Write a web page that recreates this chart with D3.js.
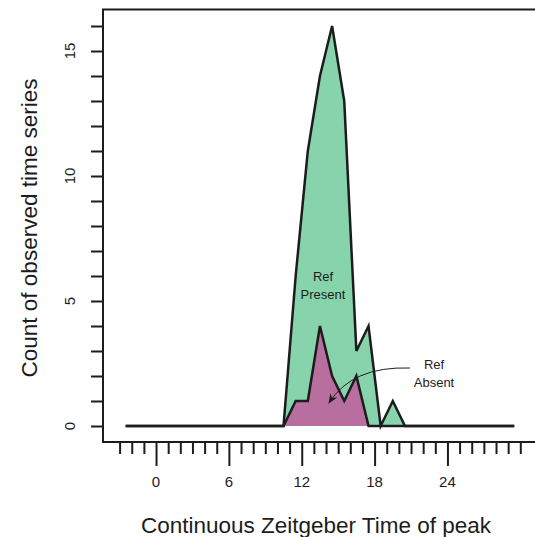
<!DOCTYPE html>
<html>
<head>
<meta charset="utf-8">
<script src="https://cdn.jsdelivr.net/npm/d3@7"></script>
<style>
  html, body { margin: 0; padding: 0; background: #fff; }
  svg { display: block; font-family: "Liberation Sans", Arial, Helvetica, sans-serif; }
</style>
</head>
<body>
<svg id="chart" width="535" height="537"></svg>
<script>
// ---- data ----
const binCenters = [-2.5, -1.5, -0.5, 0.5, 1.5, 2.5, 3.5, 4.5, 5.5, 6.5, 7.5, 8.5, 9.5,
  10.5, 11.5, 12.5, 13.5, 14.5, 15.5, 16.5, 17.5, 18.5, 19.5, 20.5, 21.5, 22.5, 23.5,
  24.5, 25.5, 26.5, 27.5, 28.5, 29.5];
const refPresent = [0, 0, 0, 0, 0, 0, 0, 0, 0, 0, 0, 0, 0,
  0, 6, 11, 14, 16, 13, 3, 4, 0, 1, 0, 0, 0, 0,
  0, 0, 0, 0, 0, 0];
const refAbsent = [0, 0, 0, 0, 0, 0, 0, 0, 0, 0, 0, 0, 0,
  0, 1, 1, 4, 2, 1, 2, 0, 0, 0, 0, 0, 0, 0,
  0, 0, 0, 0, 0, 0];
const xTickValues = [-3, -2, -1, 0, 1, 2, 3, 4, 5, 6, 7, 8, 9, 10, 11, 12, 13, 14, 15, 16,
  17, 18, 19, 20, 21, 22, 23, 24, 25, 26, 27, 28, 29, 30];
const xTickLabels = ["0", "6", "12", "18", "24"];
const yTickValues = [0, 1, 2, 3, 4, 5, 6, 7, 8, 9, 10, 11, 12, 13, 14, 15, 16];
const yTickLabels = ["0", "5", "10", "15"];
const xTitle = "Continuous Zeitgeber Time of peak";
const yTitle = "Count of observed time series";

// ---- layout ----
const svg = d3.select("#chart");
const x = d3.scaleLinear().domain([-3, 30]).range([119.6, 520.3]);
const y = d3.scaleLinear().domain([0, 16]).range([426, 26]);
const box = { left: 103, top: 9.5, bottom: 442, right: 560 };
const ink = "#1c1c1c";

const presentData = binCenters.map((c, i) => ({ x: c, v: refPresent[i] }));
const absentData = binCenters.map((c, i) => ({ x: c, v: refAbsent[i] }));

const area = d3.area().x(d => x(d.x)).y0(y(0)).y1(d => y(d.v));
const line = d3.line().x(d => x(d.x)).y(d => y(d.v));

// Ref Present (green)
svg.append("path").datum(presentData).attr("d", area)
  .attr("fill", "#87d4ac").attr("stroke", "none");
svg.append("path").datum(presentData).attr("d", line)
  .attr("fill", "none").attr("stroke", ink).attr("stroke-width", 2.5)
  .attr("stroke-linejoin", "miter");

// Ref Absent (purple)
svg.append("path").datum(absentData).attr("d", area)
  .attr("fill", "#b86e9e").attr("stroke", "none");
svg.append("path").datum(absentData).attr("d", line)
  .attr("fill", "none").attr("stroke", ink).attr("stroke-width", 2.5)
  .attr("stroke-linejoin", "miter");

// box (left, top, bottom; right side runs off the page)
svg.append("path")
  .attr("d", `M${box.right},${box.top} L${box.left},${box.top} L${box.left},${box.bottom} L${box.right},${box.bottom}`)
  .attr("fill", "none").attr("stroke", ink).attr("stroke-width", 2);

// y axis
const yAxis = d3.axisLeft(y).tickValues(yTickValues).tickSize(12).tickFormat("");
const gy = svg.append("g").attr("transform", `translate(${box.left},0)`).call(yAxis);
gy.select(".domain").remove();
gy.selectAll(".tick line").attr("stroke", ink).attr("stroke-width", 2);
yTickLabels.forEach(lbl => {
  const v = +lbl;
  svg.append("text")
    .attr("transform", `translate(69,${y(v)}) rotate(-90)`)
    .attr("text-anchor", "middle").attr("dominant-baseline", "central")
    .attr("font-size", 15).attr("fill", ink).text(lbl);
});

// x axis
const majorSet = new Set(xTickLabels.map(Number));
const xAxis = d3.axisBottom(x).tickValues(xTickValues).tickSize(12).tickFormat("");
const gx = svg.append("g").attr("transform", `translate(0,${box.bottom})`).call(xAxis);
gx.select(".domain").remove();
gx.selectAll(".tick line")
  .attr("stroke", ink).attr("stroke-width", 2)
  .attr("y2", d => majorSet.has(d) ? 24 : 12);
xTickLabels.forEach(lbl => {
  svg.append("text")
    .attr("x", x(+lbl)).attr("y", 481)
    .attr("text-anchor", "middle").attr("dominant-baseline", "central")
    .attr("font-size", 15).attr("fill", ink).text(lbl);
});

// axis titles
svg.append("text")
  .attr("x", 316).attr("y", 525)
  .attr("text-anchor", "middle").attr("dominant-baseline", "central")
  .attr("font-size", 22.5).attr("fill", ink).text(xTitle);
svg.append("text")
  .attr("transform", `translate(29,228) rotate(-90)`)
  .attr("text-anchor", "middle").attr("dominant-baseline", "central")
  .attr("font-size", 22.5).attr("fill", ink).text(yTitle);

// annotations
function twoLine(cx, cy1, l1, l2) {
  const t = svg.append("text").attr("text-anchor", "middle")
    .attr("font-size", 13).attr("fill", ink);
  t.append("tspan").attr("x", cx).attr("y", cy1).attr("dominant-baseline", "central").text(l1);
  t.append("tspan").attr("x", cx).attr("y", cy1 + 18).attr("dominant-baseline", "central").text(l2);
}
twoLine(323, 276, "Ref", "Present");
twoLine(434, 364, "Ref", "Absent");

svg.append("defs").append("marker")
  .attr("id", "ah").attr("viewBox", "0 0 10 10")
  .attr("refX", 9).attr("refY", 5)
  .attr("markerWidth", 10).attr("markerHeight", 10)
  .attr("markerUnits", "userSpaceOnUse")
  .attr("orient", "auto")
  .append("path").attr("d", "M0,1 L10,5 L0,9 L3,5 Z").attr("fill", ink);

svg.append("path")
  .attr("d", "M410,368 Q352,366 329,403")
  .attr("fill", "none").attr("stroke", ink).attr("stroke-width", 1)
  .attr("marker-end", "url(#ah)");
</script>
</body>
</html>
